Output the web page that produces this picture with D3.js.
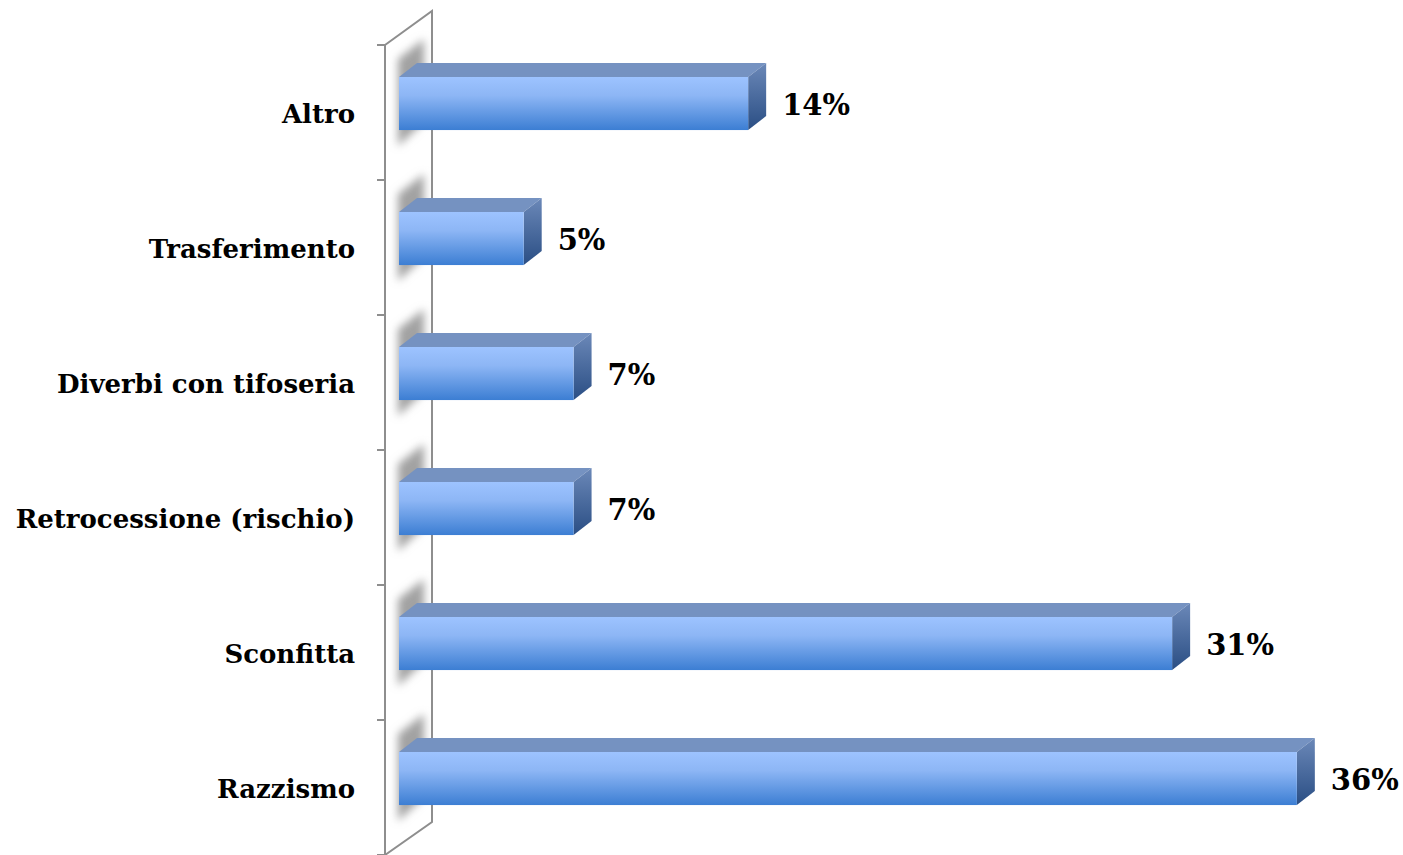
<!DOCTYPE html>
<html>
<head>
<meta charset="utf-8">
<script src="https://cdn.jsdelivr.net/npm/d3@7"></script>
<style>
  html, body { margin: 0; padding: 0; background: #ffffff; }
  svg { display: block; }
  .cat { font-family: "DejaVu Serif", serif; font-weight: bold; font-size: 26px; fill: #000; }
  .val { font-family: "DejaVu Serif", serif; font-weight: bold; font-size: 29px; fill: #000; }
</style>
</head>
<body>
<svg id="chart" width="1403" height="855"></svg>
<script>
const categories = ["Altro", "Trasferimento", "Diverbi con tifoseria", "Retrocessione (rischio)", "Sconfitta", "Razzismo"];
const values = [14, 5, 7, 7, 31, 36];
const valueLabels = ["14%", "5%", "7%", "7%", "31%", "36%"];

const svg = d3.select("#chart");

// 3D geometry
const wallDx = 47, wallDy = -34;   // offset of back wall plane from front axis
const depthX = 18, depthY = -14;   // bar depth

const y = d3.scaleBand().domain(categories).range([45, 855]).padding(0);
const x = d3.scaleLinear().domain([0, 40]).range([399, 399 + 40 * 24.94]);
const axisX = 385;

const defs = svg.append("defs");
const gFront = defs.append("linearGradient").attr("id", "gFront").attr("x1", 0).attr("y1", 0).attr("x2", 0).attr("y2", 1);
gFront.append("stop").attr("offset", "0%").attr("stop-color", "#9DC3FF");
gFront.append("stop").attr("offset", "35%").attr("stop-color", "#8DB6F5");
gFront.append("stop").attr("offset", "100%").attr("stop-color", "#3C7ED3");
const gSide = defs.append("linearGradient").attr("id", "gSide").attr("x1", 0).attr("y1", 0).attr("x2", 0).attr("y2", 1);
gSide.append("stop").attr("offset", "0%").attr("stop-color", "#6B88B8");
gSide.append("stop").attr("offset", "100%").attr("stop-color", "#2A4E84");
const blur = defs.append("filter").attr("id", "blur").attr("x", "-50%").attr("y", "-50%").attr("width", "200%").attr("height", "200%");
blur.append("feGaussianBlur").attr("stdDeviation", 4);
const clip = defs.append("clipPath").attr("id", "wallClip");

// back wall outline
const wall = svg.append("g").attr("stroke", "#8E8E8E").attr("stroke-width", 2).attr("fill", "none");
const yTop = y.range()[0], yBot = y.range()[1];
clip.append("rect").attr("x", axisX + 1).attr("y", 0).attr("width", wallDx - 2).attr("height", yBot);
wall.append("path").attr("d", `M${axisX},${yTop} L${axisX + wallDx},${yTop + wallDy} L${axisX + wallDx},${yBot + wallDy + 1} L${axisX},${yBot}`);
wall.append("line").attr("x1", axisX).attr("x2", axisX).attr("y1", yTop).attr("y2", yBot);
const tickYs = categories.map(c => y(c)).concat([yBot]);
wall.selectAll("line.tick").data(tickYs).enter().append("line").attr("class", "tick")
  .attr("x1", axisX - 8).attr("x2", axisX).attr("y1", d => d).attr("y2", d => d);

const bw = y.bandwidth();
const faceTop = c => y(c) + bw * 0.237;
const faceH = bw * 0.393;

// soft shadows cast on the wall
svg.append("g").attr("clip-path", "url(#wallClip)").selectAll("path").data(categories).enter().append("path")
  .attr("d", c => {
    const l = x(0) - 1, r = x(0) + 25, t = faceTop(c), b = t + faceH;
    return `M${l},${t - 18} L${r},${t - 38} L${r},${b - 8} L${l},${b + 16} Z`;
  })
  .attr("fill", "#a2a2a2").attr("filter", "url(#blur)");

// bars
const bars = svg.append("g").selectAll("g").data(categories).enter().append("g");
bars.append("path") // top face
  .attr("d", (c, i) => {
    const x0 = x(0), x1 = x(values[i]), t = faceTop(c);
    return `M${x0},${t} L${x0 + depthX},${t + depthY} L${x1 + depthX},${t + depthY} L${x1},${t} Z`;
  })
  .attr("fill", "#7592C1");
bars.append("path") // right face
  .attr("d", (c, i) => {
    const x1 = x(values[i]), t = faceTop(c), b = t + faceH;
    return `M${x1},${t} L${x1 + depthX},${t + depthY} L${x1 + depthX},${b + depthY} L${x1},${b} Z`;
  })
  .attr("fill", "url(#gSide)");
bars.append("rect") // front face
  .attr("x", x(0)).attr("y", c => faceTop(c))
  .attr("width", (c, i) => x(values[i]) - x(0)).attr("height", faceH)
  .attr("fill", "url(#gFront)");

// category labels
const cats = svg.append("g").selectAll("text").data(categories).enter().append("text")
  .attr("class", "cat").attr("text-anchor", "end")
  .attr("x", 355).attr("y", c => y(c) + bw / 2 + 10)
  .text(c => c);
const maxW = d3.max(cats.nodes(), n => n.getComputedTextLength());
if (maxW > 340) cats.style("font-size", (26 * 340 / maxW) + "px");

// value labels
svg.append("g").selectAll("text").data(categories).enter().append("text")
  .attr("class", "val")
  .attr("x", (c, i) => x(values[i]) + depthX + 16)
  .attr("y", c => faceTop(c) + faceH / 2 + 11.5)
  .text((c, i) => valueLabels[i]);
</script>
</body>
</html>
